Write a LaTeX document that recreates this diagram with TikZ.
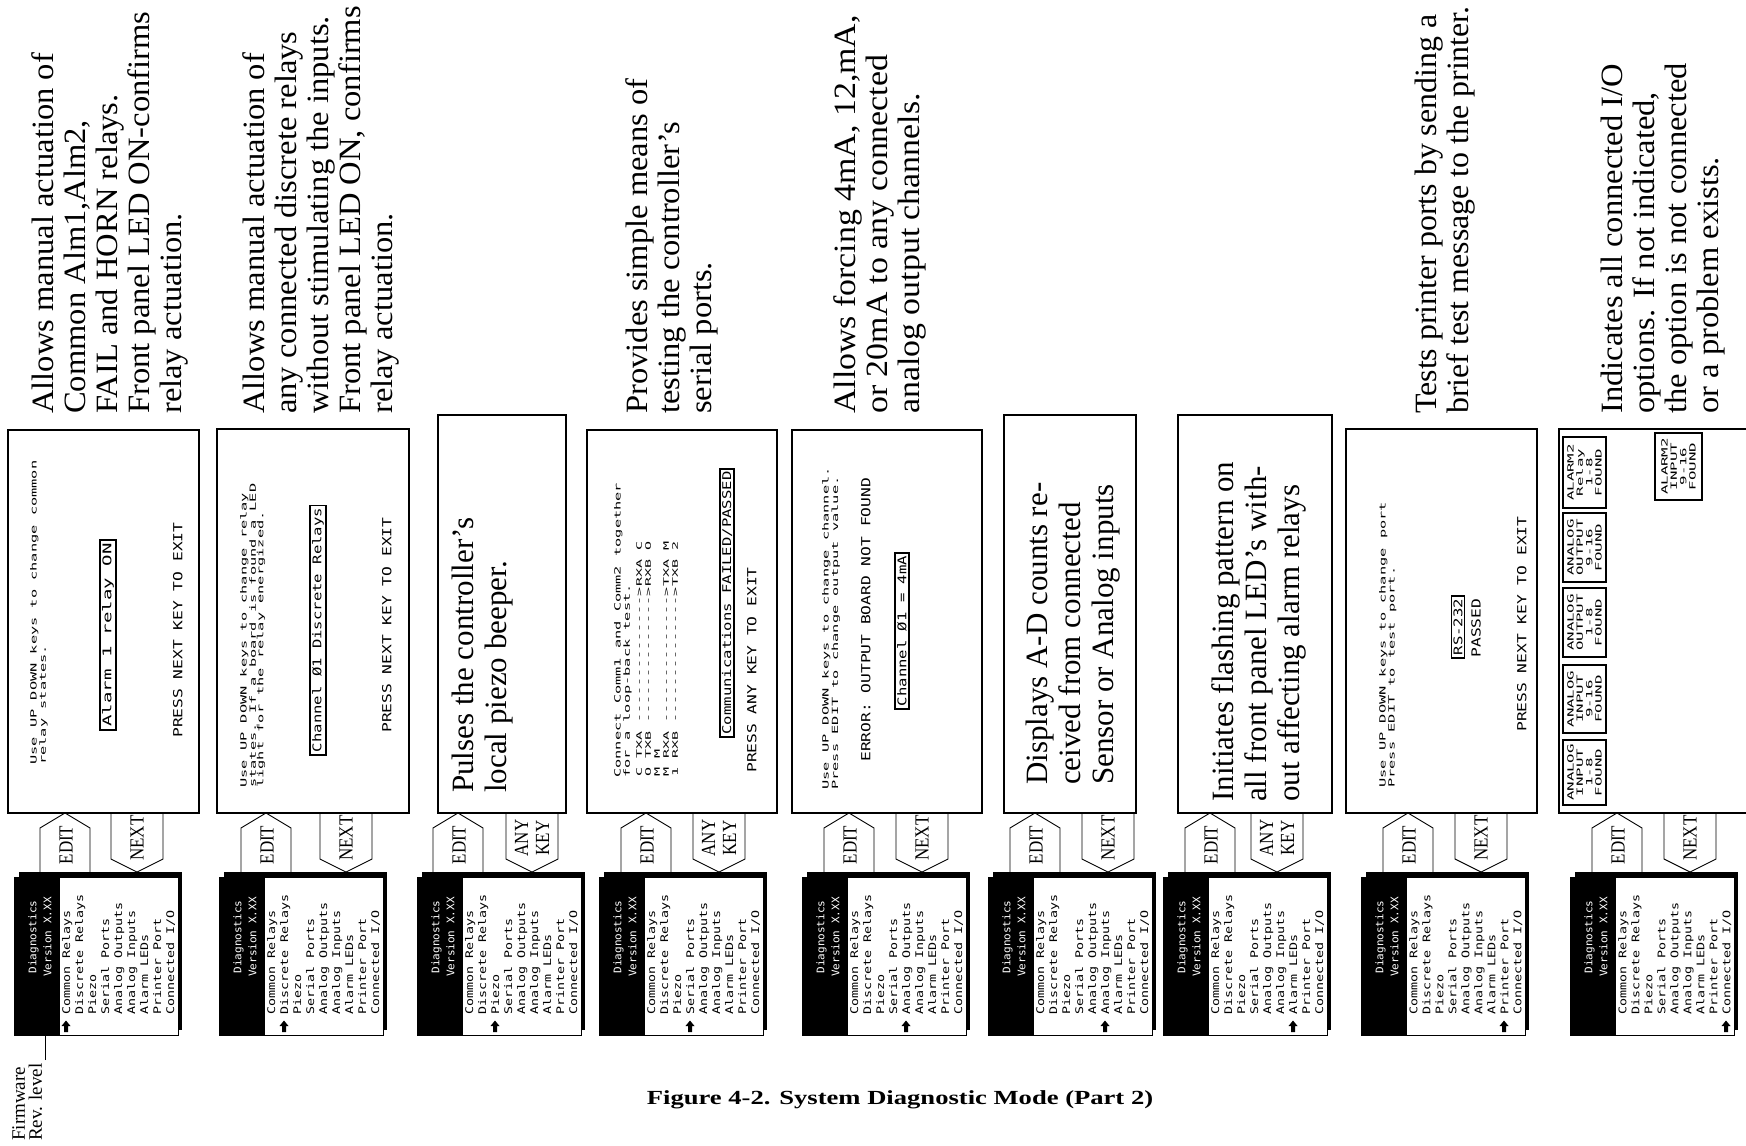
\documentclass[tikz,border=0pt]{standalone}
\usepackage{fontspec}
\setmainfont{Liberation Serif}
\setmonofont{DejaVu Sans Mono}
\begin{document}
\begin{tikzpicture}[x=1pt,y=-1pt,line join=miter]
\tikzset{
 desc/.style={rotate=90,anchor=north west,inner sep=0pt,align=left,font=\fontsize{31}{32}\selectfont,xscale=1.05},
 descb/.style={rotate=90,anchor=north west,inner sep=0pt,align=left,font=\fontsize{31}{33}\selectfont},
 lcds/.style={rotate=90,anchor=north west,inner sep=0pt,align=left,font=\ttfamily\fontsize{8.5}{7.4}\selectfont,xscale=1.8},
 lcdc/.style={rotate=90,anchor=north west,inner sep=0pt,align=left,font=\ttfamily\fontsize{7.5}{9}\selectfont,xscale=2.0},
 lcdl/.style={rotate=90,anchor=north west,inner sep=0pt,font=\ttfamily\fontsize{12.5}{13}\selectfont,xscale=1.3},
 lcdlc/.style={rotate=90,inner sep=0pt,font=\ttfamily\fontsize{12.5}{13}\selectfont,xscale=1.3},
 lcdbx/.style={rotate=90,draw,line width=1.6pt,inner sep=2pt,font=\ttfamily\fontsize{12}{13}\selectfont,xscale=1.3},
 frame/.style={line width=1.3pt},
 keyline/.style={line width=0.9pt},
 keylab/.style={rotate=90,inner sep=0pt,align=center,font=\fontsize{20}{21}\selectfont,xscale=0.85},
 mtitle/.style={rotate=90,inner sep=0pt,align=center,text=white,font=\ttfamily\fontsize{10.5}{15}\selectfont,xscale=1.05},
 mlist/.style={rotate=90,anchor=north west,inner sep=0pt,align=left,font=\ttfamily\fontsize{10.5}{13}\selectfont,xscale=1.27},
 iob/.style={line width=1.4pt},
 iot/.style={rotate=90,inner sep=0pt,align=center,font=\ttfamily\fontsize{8.5}{9.4}\selectfont,xscale=1.85},
}
\useasboundingbox[fill=white] (0,0) rectangle (1746,1146);

\newcommand\dmenu[3]{%
 \fill ({#2+5},872) rectangle ({#2+168},1030);
 \filldraw[fill=white,line width=0.8pt] (#2,877) rectangle ({#2+164},1035);
 \fill (#2,877) rectangle ({#2+46},1035);
 \node[mtitle] (#1t) at ({#2+26},937) {Diagnostics\\Version X.XX};
 \node[mlist] (#1l) at ({#2+48},1015) {Common Relays\\Discrete Relays\\Piezo\\Serial Ports\\Analog Outputs\\Analog Inputs\\Alarm LEDs\\Printer Port\\Connected I/O};
 \fill[shift={({#2+52+13*(#3-1)},1026)}] (-4.5,0) -- (0,-5.5) -- (4.5,0) -- (2,0) -- (2,6) -- (-2,6) -- (-2,0) -- cycle;
}
\newcommand\dkeys[4]{%
 \draw[keyline] (#2,872) -- (#2,828) -- ({#2+25},813) -- ({#2+50},828) -- ({#2+50},872);
 \node[keylab] (#1e) at ({#2+26},845) {EDIT};
 \draw[keyline] (#3,813) -- (#3,859) -- ({#3+26},872) -- ({#3+52},859) -- ({#3+52},813);
 \node[keylab] (#1n) at ({#3+26},838) {#4};
}

% ---------- column 1
\draw[frame] (8,430) rectangle (199,813);
\node[desc] (d1) at (31,414) {Allows manual actuation of\\Common Alm1,Alm2,\\FAIL and HORN relays.\\Front panel LED ON-confirms\\relay actuation.};
\node[lcds] (c1a) at (30,765) {Use UP DOWN keys to change common\\relay states.};
\node[lcdbx,xscale=1.22] (c1b) at (108,635) {Alarm 1 relay ON};
\node[lcdl] (c1c) at (173,738) {PRESS NEXT KEY TO EXIT};
\dkeys{k1}{40}{111}{NEXT}
\dmenu{m1}{14}{1}

% ---------- column 2
\draw[frame] (217,429) rectangle (409,813);
\node[desc] (d2) at (242,414) {Allows manual actuation of\\any connected discrete relays\\without stimulating the inputs.\\Front panel LED ON, confirms\\relay actuation.};
\node[lcds] (c2a) at (240,788) {Use UP DOWN keys to change relay\\states.  If a board is found a LED\\light for the relay energized.};
\node[lcdbx] (c2b) at (318,630) {Channel Ø1 Discrete Relays};
\node[lcdl] (c2c) at (382,733) {PRESS NEXT KEY TO EXIT};
\dkeys{k2}{241}{320}{NEXT}
\dmenu{m2}{219}{2}

% ---------- column 3
\draw[frame] (438,415) rectangle (566,813);
\node[descb] (d3) at (452,793) {Pulses the controller's\\local piezo beeper.};
\dkeys{k3}{433}{506}{ANY\\KEY}
\dmenu{m3}{417}{3}

% ---------- column 4
\draw[frame] (587,430) rectangle (777,813);
\node[desc] (d4) at (625,414) {Provides simple means of\\testing the controller's\\serial ports.};
\node[lcds] (c4a) at (614,778) {Connect Comm1 and Comm2 together\\for a loop-back test.};
\node[lcdc] (c4b) at (636,777) {C  TXA -------------->RXA  C\\O  TXB -------------->RXB  O\\M                          M\\M  RXA -------------->TXA  M\\1  RXB -------------->TXB  2};
\node[lcdbx] (c4c) at (727,603) {Communications FAILED/PASSED};
\node[lcdl] (c4d) at (747,773) {PRESS ANY KEY TO EXIT};
\dkeys{k4}{621}{693}{ANY\\KEY}
\dmenu{m4}{599}{4}

% ---------- column 5
\draw[frame] (792,430) rectangle (982,813);
\node[desc,xscale=1.04] (d5) at (833,414) {Allows forcing 4mA, 12,mA,\\or 20mA to any connected\\analog output channels.};
\node[lcds] (c5a) at (822,790) {Use UP DOWN keys to change channel.\\Press EDIT to change output value.};
\node[lcdl] (c5b) at (861,762) {ERROR: OUTPUT BOARD NOT FOUND};
\node[lcdbx] (c5c) at (902,631) {Channel Ø1 = 4mA};
\dkeys{k5}{824}{896}{NEXT}
\dmenu{m5}{802}{5}

% ---------- column 6
\draw[frame] (1004,415) rectangle (1136,813);
\node[descb] (d6) at (1026,785) {Displays A-D counts re-\\ceived from connected\\Sensor or Analog inputs};
\dkeys{k6}{1010}{1082}{NEXT}
\dmenu{m6}{988}{6}

% ---------- column 7
\draw[frame] (1178,415) rectangle (1332,813);
\node[descb] (d7) at (1211,802) {Initiates flashing pattern on\\all front panel LED's with-\\out affecting alarm relays};
\dkeys{k7}{1185}{1251}{ANY\\KEY}
\dmenu{m7}{1163}{7}

% ---------- column 8
\draw[frame] (1346,429) rectangle (1537,813);
\node[desc,xscale=0.98] (d8) at (1415,414) {Tests printer ports by sending a\\brief test message to the printer.};
\node[lcds] (c8a) at (1379,788) {Use UP DOWN keys to change port\\Press EDIT to test port.};
\node[lcdbx] (c8b) at (1458,627) {RS-232};
\node[lcdlc] (c8c) at (1476,628) {PASSED};
\node[lcdl] (c8d) at (1517,732) {PRESS NEXT KEY TO EXIT};
\dkeys{k8}{1383}{1455}{NEXT}
\dmenu{m8}{1361}{8}

% ---------- column 9
\draw[frame] (1750,429) -- (1559,429) -- (1559,813) -- (1750,813);
\node[desc] (d9) at (1601,414) {Indicates all connected I/O\\options. If not indicated,\\the option is not connected\\or a problem exists.};
\draw[iob] (1563,740) rectangle (1606,805); \node[iot] (io1) at (1584.5,772.5) {ANALOG\\INPUT\\1-8\\FOUND};
\draw[iob] (1563,665) rectangle (1606,733); \node[iot] (io2) at (1584.5,699) {ANALOG\\INPUT\\9-16\\FOUND};
\draw[iob] (1563,588) rectangle (1606,657); \node[iot] (io3) at (1584.5,622.5) {ANALOG\\OUTPUT\\1-8\\FOUND};
\draw[iob] (1563,513) rectangle (1606,582); \node[iot] (io4) at (1584.5,547.5) {ANALOG\\OUTPUT\\9-16\\FOUND};
\draw[iob] (1563,437) rectangle (1606,508); \node[iot] (io5) at (1584.5,472.5) {ALARM2\\Relay\\1-8\\FOUND};
\draw[iob] (1655,433) rectangle (1702,500); \node[iot] (io6) at (1678.5,466.5) {ALARM2\\INPUT\\9-16\\FOUND};
\dkeys{k9}{1592}{1664}{NEXT}
\dmenu{m9}{1570}{9}

% ---------- firmware label and caption
\node[rotate=90,anchor=north west,inner sep=0pt,align=left,font=\fontsize{19}{17}\selectfont] (fw) at (12,1141) {Firmware\\Rev. level};
\coordinate (fwa) at (45,1060);
\coordinate (fwb) at (45,1036);
\draw[line width=1pt] (fwa) -- (fwb);
\node[font=\bfseries\fontsize{20}{20}\selectfont,xscale=1.33,inner sep=0pt] (cap) at (900,1100) {Figure 4-2. System Diagnostic Mode (Part 2)};
\end{tikzpicture}
\end{document}
